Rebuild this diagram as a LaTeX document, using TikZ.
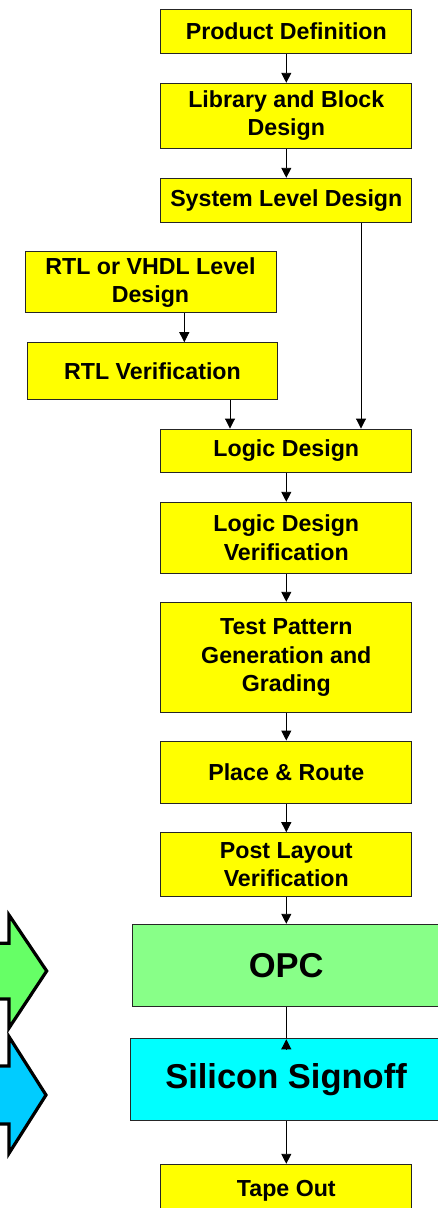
\documentclass[tikz,border=0pt]{standalone}
\usepackage{fontspec}
\setmainfont{Liberation Sans}
\usetikzlibrary{arrows.meta}
\definecolor{boxyellow}{HTML}{FFFF00}
\definecolor{opcgreen}{HTML}{88FF88}
\definecolor{sigcyan}{HTML}{00FFFF}
\definecolor{arrgreen}{HTML}{66FF66}
\definecolor{arrblue}{HTML}{00CCFF}
\tikzset{
  stepbox/.style={draw=black!85, line width=1pt, fill=boxyellow, inner sep=0pt,
    align=center, font=\fontsize{23.2}{28.3}\selectfont\bfseries},
  bigbox/.style={draw=black!85, line width=1pt, inner sep=0pt,
    align=center, font=\fontsize{34.5}{40}\selectfont\bfseries},
  conn/.style={draw=black, line width=0.9pt, -{Triangle[length=10pt,width=10pt]}},
  plain/.style={draw=black, line width=0.9pt},
  blockarrow/.style={draw=black, line width=3.2pt, line join=miter, miter limit=10}
}
\begin{document}
\begin{tikzpicture}[x=1pt,y=-1pt]
\useasboundingbox (0,0) rectangle (438,1208);
% left block arrows
\draw[blockarrow, fill=arrgreen] (-20,943.3) -- (9,943.3) -- (9,915) -- (46.7,971) -- (9,1028) -- (9,999) -- (-20,999) -- cycle;
\draw[blockarrow, fill=arrblue] (-20,1066) -- (9,1066) -- (9,1036.7) -- (46,1095) -- (9,1153.3) -- (9,1124) -- (-20,1124) -- cycle;
% boxes
\node[stepbox, minimum width=250.7pt, minimum height=44pt] (pd) at (286.3,31.3) {Product Definition};
\node[stepbox, minimum width=250.7pt, minimum height=65pt] (lib) at (286.3,115.8) {Library and Block\\Design};
\node[stepbox, minimum width=250.7pt, minimum height=44pt] (sys) at (286.3,200.3) {System Level Design};
\node[stepbox, minimum width=251pt, minimum height=61pt] (rtl) at (150.5,282.2) {RTL or VHDL Level\\Design};
\node[stepbox, minimum width=250.4pt, minimum height=56.6pt] (rtlv) at (152.5,371) {RTL Verification};
\node[stepbox, minimum width=250.7pt, minimum height=43.3pt] (logic) at (286.3,450.7) {Logic Design};
\node[stepbox, minimum width=250.7pt, minimum height=71pt] (ldv) at (286.3,537.8) {Logic Design\\Verification};
\node[stepbox, minimum width=250.7pt, minimum height=110.4pt] (tpg) at (286.3,657.5) {Test Pattern\\Generation and\\Grading};
\node[stepbox, minimum width=250.7pt, minimum height=62.3pt] (pr) at (286.3,772.2) {Place \& Route};
\node[stepbox, minimum width=250.7pt, minimum height=64pt] (plv) at (286.3,864.7) {Post Layout\\Verification};
\node[bigbox, fill=opcgreen, minimum width=307.7pt, minimum height=82.4pt] (opc) at (286.15,965.5) {OPC};
\node[bigbox, fill=sigcyan, minimum width=312pt, minimum height=82.4pt] (sil) at (286,1079.5) {Silicon Signoff};
\node[stepbox, minimum width=250.7pt, minimum height=52pt] (tape) at (286.3,1190.3) {Tape Out};
% connectors
\draw[conn] (pd.south) -- (lib.north);
\draw[conn] (lib.south) -- (sys.north);
\draw[conn] ([xshift=74.7pt]sys.south) -- ([xshift=74.7pt]sys.south |- logic.north);
\draw[conn] ([xshift=33.8pt]rtl.south) -- ([xshift=33.8pt]rtl.south |- rtlv.north);
\draw[conn] ([xshift=77.5pt]rtlv.south) -- ([xshift=77.5pt]rtlv.south |- logic.north);
\draw[conn] (logic.south) -- (ldv.north);
\draw[conn] (ldv.south) -- (tpg.north);
\draw[conn] (tpg.south) -- (pr.north);
\draw[conn] (pr.south) -- (plv.north);
\draw[conn] (plv.south) -- (opc.north -| plv.south);
\draw[plain] (opc.south -| plv.south) -- (sil.north -| plv.south);
\draw[conn] ([yshift=-11pt]sil.north -| plv.south) -- ([yshift=-1.5pt]sil.north -| plv.south);
\draw[conn] (sil.south -| plv.south) -- (tape.north);
\end{tikzpicture}
\end{document}
